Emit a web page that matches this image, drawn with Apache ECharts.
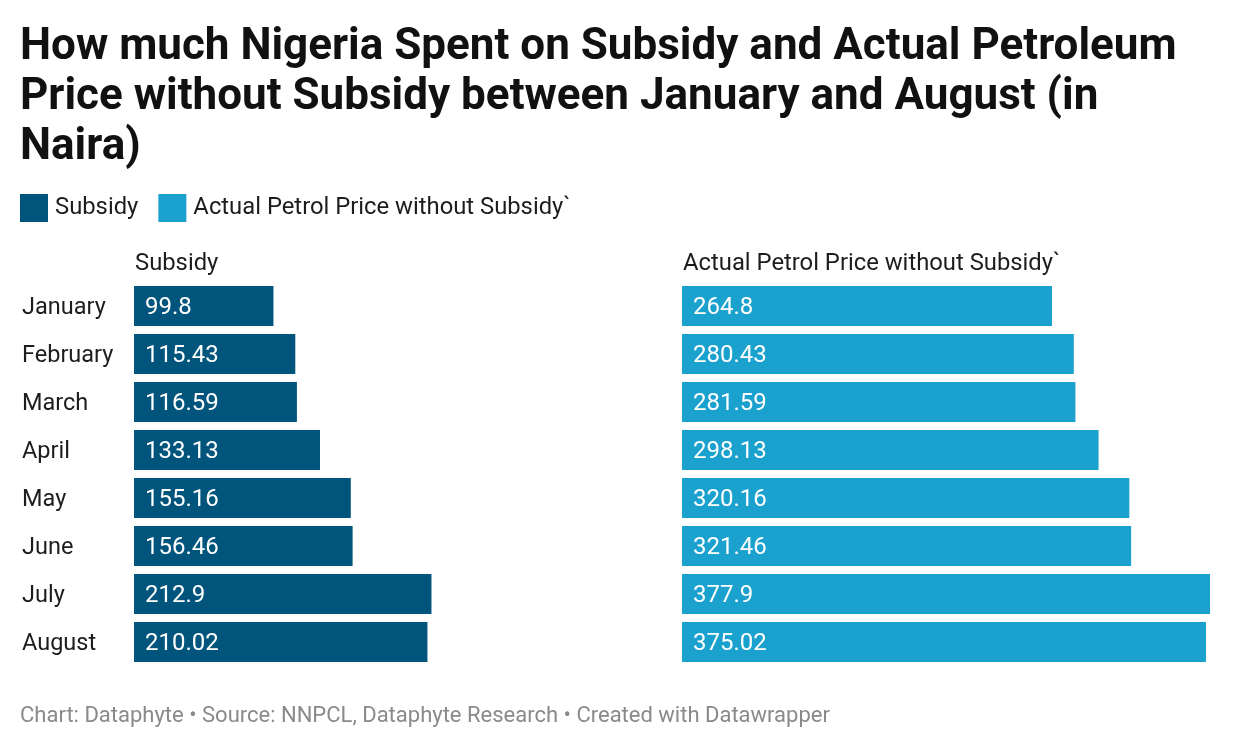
<!DOCTYPE html>
<html>
<head>
<meta charset="utf-8">
<script src="https://cdn.jsdelivr.net/npm/echarts@6/dist/echarts.min.js"></script>
<style>
html,body{margin:0;padding:0;background:#fff;}
#chart{width:1240px;height:750px;}
</style>
</head>
<body>
<div id="chart"></div>
<script>
const months = ["January","February","March","April","May","June","July","August"];
const subsidy = [99.8, 115.43, 116.59, 133.13, 155.16, 156.46, 212.9, 210.02];
const actualPrice = [264.8, 280.43, 281.59, 298.13, 320.16, 321.46, 377.9, 375.02];
const seriesNames = ["Subsidy", "Actual Petrol Price without Subsidy`"];
const titleText = "How much Nigeria Spent on Subsidy and Actual Petroleum\nPrice without Subsidy between January and August (in\nNaira)";
const footerText = "Chart: Dataphyte \u2022 Source: NNPCL, Dataphyte Research \u2022 Created with Datawrapper";

const DARK = "#01547b";
const LIGHT = "#1aa1cd";
const FONT = "Roboto";
const scaleMax = Math.max(...subsidy, ...actualPrice);

const chart = echarts.init(document.getElementById('chart'), null, {renderer:'canvas'});
const catAxis = (idx, show) => ({
  type:'category', gridIndex:idx, data:months, inverse:true,
  axisLine:{show:false}, axisTick:{show:false}, splitLine:{show:false},
  axisLabel:{show:show, align:'left', margin:112, color:'#1d1d1d', fontFamily:FONT, fontSize:23.5,
    verticalAlign:'top', lineHeight:28, padding:[-12,0,0,0]}
});
const valAxis = (idx) => ({
  type:'value', gridIndex:idx, min:0, max:scaleMax, show:false
});
const barSeries = (idx, name, data, color) => ({
  type:'bar', name:name, xAxisIndex:idx, yAxisIndex:idx, data:data,
  barWidth:40, itemStyle:{color:color}, silent:true,
  label:{show:true, position:'insideLeft', distance:11, offset:[0,2], color:'#fff', fontFamily:FONT, fontSize:24,
    formatter:(p)=>String(p.value)}
});

chart.setOption({
  animation:false,
  textStyle:{fontFamily:FONT},
  title:{
    text:titleText, left:20, top:23, padding:0,
    textStyle:{fontFamily:FONT, fontWeight:'bold', fontSize:44, lineHeight:50, color:'#111'}
  },
  legend:{
    left:20, top:194, padding:0, itemWidth:28, itemHeight:28, itemGap:20, icon:'rect',
    selectedMode:false,
    textStyle:{fontFamily:FONT, fontSize:23.8, color:'#1d1d1d', padding:[2,0,0,2]},
    data:seriesNames
  },
  grid:[
    {left:134, top:282, width:528, height:384},
    {left:682, top:282, width:528, height:384}
  ],
  xAxis:[valAxis(0), valAxis(1)],
  yAxis:[catAxis(0,true), catAxis(1,false)],
  series:[
    barSeries(0, seriesNames[0], subsidy, DARK),
    barSeries(1, seriesNames[1], actualPrice, LIGHT)
  ],
  graphic:[
    {type:'text', left:135, top:252, style:{text:seriesNames[0], fontFamily:FONT, fontSize:23.8, fill:'#1d1d1d'}},
    {type:'text', left:683, top:252, style:{text:seriesNames[1], fontFamily:FONT, fontSize:23.8, fill:'#1d1d1d'}},
    {type:'text', left:20, top:705, style:{text:footerText, fontFamily:FONT, fontSize:22, fill:'#8a8a8a'}}
  ]
});
</script>
</body>
</html>
